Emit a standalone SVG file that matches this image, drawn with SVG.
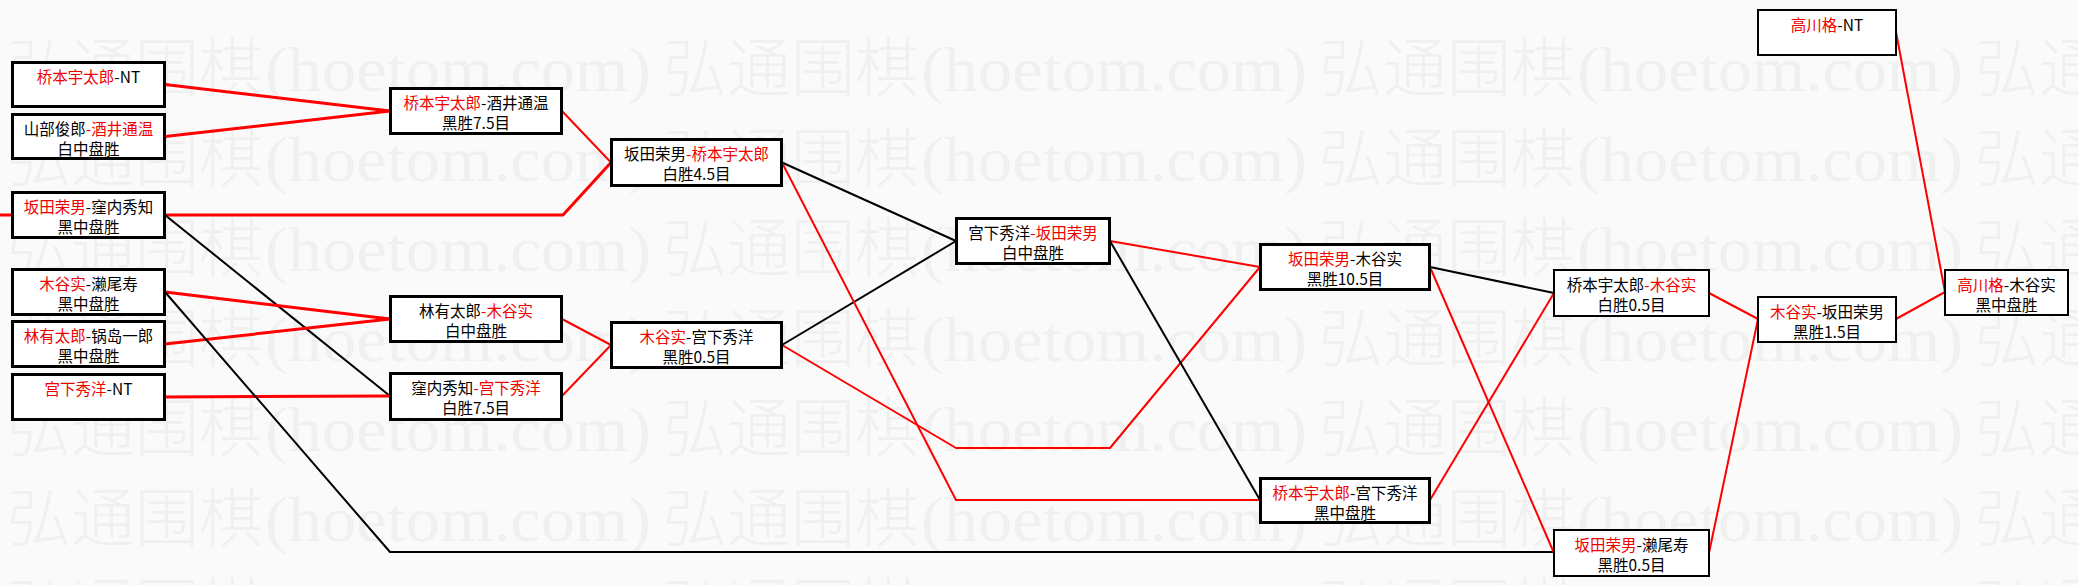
<svg xmlns="http://www.w3.org/2000/svg" xmlns:xlink="http://www.w3.org/1999/xlink" width="2078" height="585" viewBox="0 0 2078 585">
<style>
.bg{fill:#fafafa}
.wmc{font-family:"Noto Sans CJK SC","Noto Sans CJK JP",sans-serif;font-size:64px;font-weight:300;fill:#f0f0f0}
.wml{font-family:"Liberation Serif",serif;font-size:64px;fill:#f0f0f0}
.n rect{fill:#fff;stroke:#000;stroke-width:3}
.n.thin rect{stroke-width:2}
.n text{font-family:"Noto Sans CJK SC","Noto Sans CJK JP",sans-serif;font-size:15.5px;text-anchor:middle;fill:#000}
.n .r{fill:#f00000}
.c{fill:none;stroke-width:2;stroke-linejoin:round}
.c.red{stroke:#f00}
.c.blk{stroke:#000}
.c.w{stroke-width:3}
</style>
<defs>
<g id="wmrow">
<text class="wmc" x="7">弘通围棋</text><text class="wml" x="265" textLength="386" lengthAdjust="spacingAndGlyphs">(hoetom.com)</text>
<text class="wmc" x="663">弘通围棋</text><text class="wml" x="921" textLength="386" lengthAdjust="spacingAndGlyphs">(hoetom.com)</text>
<text class="wmc" x="1319">弘通围棋</text><text class="wml" x="1577" textLength="386" lengthAdjust="spacingAndGlyphs">(hoetom.com)</text>
<text class="wmc" x="1975">弘通围棋</text>
</g>
</defs>
<rect class="bg" x="0" y="0" width="2078" height="585"/>
<g id="watermark">
<use xlink:href="#wmrow" href="#wmrow" y="91"/>
<use xlink:href="#wmrow" href="#wmrow" y="181"/>
<use xlink:href="#wmrow" href="#wmrow" y="271"/>
<use xlink:href="#wmrow" href="#wmrow" y="361"/>
<use xlink:href="#wmrow" href="#wmrow" y="451"/>
<use xlink:href="#wmrow" href="#wmrow" y="541"/>
<use xlink:href="#wmrow" href="#wmrow" y="631"/>
</g>
<g id="connectors">
<polyline class="c red w" points="0,215 12,215"/>
<polyline class="c red w" points="165,84.5 390,111"/>
<polyline class="c red w" points="165,136.5 390,111"/>
<polyline class="c red w" points="165,215 563,215 611,162.5"/>
<polyline class="c red" points="562,111 611,162.5"/>
<polyline class="c blk" points="165,215 390,396"/>
<polyline class="c red w" points="165,292 390,319"/>
<polyline class="c red w" points="165,344 390,319"/>
<polyline class="c red w" points="165,397 390,396"/>
<polyline class="c blk" points="165,292 390,552 1554,552"/>
<polyline class="c red" points="562,319 611,345"/>
<polyline class="c red" points="562,396 611,345"/>
<polyline class="c blk" points="782,162.5 956,241"/>
<polyline class="c blk" points="782,345 956,241"/>
<polyline class="c red" points="782,162.5 956,500 1260,500"/>
<polyline class="c red" points="782,345 956,448 1110,448 1260,267"/>
<polyline class="c red" points="1110,241 1260,267"/>
<polyline class="c blk" points="1110,241 1260,500"/>
<polyline class="c blk" points="1430,267 1554,293"/>
<polyline class="c red" points="1430,267 1554,553"/>
<polyline class="c red" points="1430,500 1554,293"/>
<polyline class="c red" points="1709,293 1758,319"/>
<polyline class="c red" points="1709,553 1758,319"/>
<polyline class="c red" points="1896,319 1945,292"/>
<polyline class="c red" points="1896,32 1945,292"/>
</g>
<g id="B1" class="n"><rect x="12.5" y="62.5" width="152" height="44"/><text x="88.5" y="82.5"><tspan class="r">桥本宇太郎</tspan>-NT</text></g>
<g id="B2" class="n"><rect x="12.5" y="114.5" width="152" height="44"/><text x="88.5" y="134.5">山部俊郎<tspan class="r">-酒井通温</tspan></text><text x="88.5" y="155">白中盘胜</text></g>
<g id="B3" class="n"><rect x="12.5" y="192.5" width="152" height="45"/><text x="88.5" y="212.5"><tspan class="r">坂田荣男</tspan>-窪内秀知</text><text x="88.5" y="233">黑中盘胜</text></g>
<g id="B4" class="n"><rect x="12.5" y="269.5" width="152" height="45"/><text x="88.5" y="289.5"><tspan class="r">木谷实</tspan>-濑尾寿</text><text x="88.5" y="310">黑中盘胜</text></g>
<g id="B5" class="n"><rect x="12.5" y="321.5" width="152" height="45"/><text x="88.5" y="341.5"><tspan class="r">林有太郎</tspan>-锅岛一郎</text><text x="88.5" y="362">黑中盘胜</text></g>
<g id="B6" class="n"><rect x="12.5" y="374.5" width="152" height="45"/><text x="88.5" y="394.5"><tspan class="r">宫下秀洋</tspan>-NT</text></g>
<g id="C1" class="n"><rect x="390.5" y="88.5" width="171" height="45"/><text x="476" y="108.5"><tspan class="r">桥本宇太郎</tspan>-酒井通温</text><text x="476" y="129">黑胜7.5目</text></g>
<g id="C2" class="n"><rect x="390.5" y="296.5" width="171" height="45"/><text x="476" y="316.5">林有太郎<tspan class="r">-木谷实</tspan></text><text x="476" y="337">白中盘胜</text></g>
<g id="C3" class="n"><rect x="390.5" y="373.5" width="171" height="46"/><text x="476" y="393.5">窪内秀知<tspan class="r">-宫下秀洋</tspan></text><text x="476" y="414">白胜7.5目</text></g>
<g id="D1" class="n"><rect x="611.5" y="139.5" width="170" height="46"/><text x="696.5" y="159.5">坂田荣男<tspan class="r">-桥本宇太郎</tspan></text><text x="696.5" y="180">白胜4.5目</text></g>
<g id="D2" class="n"><rect x="611.5" y="322.5" width="170" height="45"/><text x="696.5" y="342.5"><tspan class="r">木谷实</tspan>-宫下秀洋</text><text x="696.5" y="363">黑胜0.5目</text></g>
<g id="E1" class="n"><rect x="956.5" y="218.5" width="153" height="45"/><text x="1033" y="238.5">宫下秀洋<tspan class="r">-坂田荣男</tspan></text><text x="1033" y="259">白中盘胜</text></g>
<g id="F1" class="n"><rect x="1260.5" y="244.5" width="169" height="45"/><text x="1345" y="264.5"><tspan class="r">坂田荣男</tspan>-木谷实</text><text x="1345" y="285">黑胜10.5目</text></g>
<g id="F2" class="n"><rect x="1260.5" y="478.5" width="169" height="44"/><text x="1345" y="498.5"><tspan class="r">桥本宇太郎</tspan>-宫下秀洋</text><text x="1345" y="519">黑中盘胜</text></g>
<g id="G1" class="n thin"><rect x="1554" y="270" width="155" height="46"/><text x="1631.5" y="290.5">桥本宇太郎<tspan class="r">-木谷实</tspan></text><text x="1631.5" y="311">白胜0.5目</text></g>
<g id="G2" class="n thin"><rect x="1554" y="530" width="155" height="46"/><text x="1631.5" y="550.5"><tspan class="r">坂田荣男</tspan>-濑尾寿</text><text x="1631.5" y="571">黑胜0.5目</text></g>
<g id="H0" class="n thin"><rect x="1758" y="10" width="138" height="45"/><text x="1827" y="30.5"><tspan class="r">高川格</tspan>-NT</text></g>
<g id="H1" class="n thin"><rect x="1758" y="297" width="138" height="45"/><text x="1827" y="317.5"><tspan class="r">木谷实</tspan>-坂田荣男</text><text x="1827" y="338">黑胜1.5目</text></g>
<g id="I1" class="n thin"><rect x="1945" y="270" width="123" height="45"/><text x="2006.5" y="290.5"><tspan class="r">高川格</tspan>-木谷实</text><text x="2006.5" y="311">黑中盘胜</text></g>
</svg>
